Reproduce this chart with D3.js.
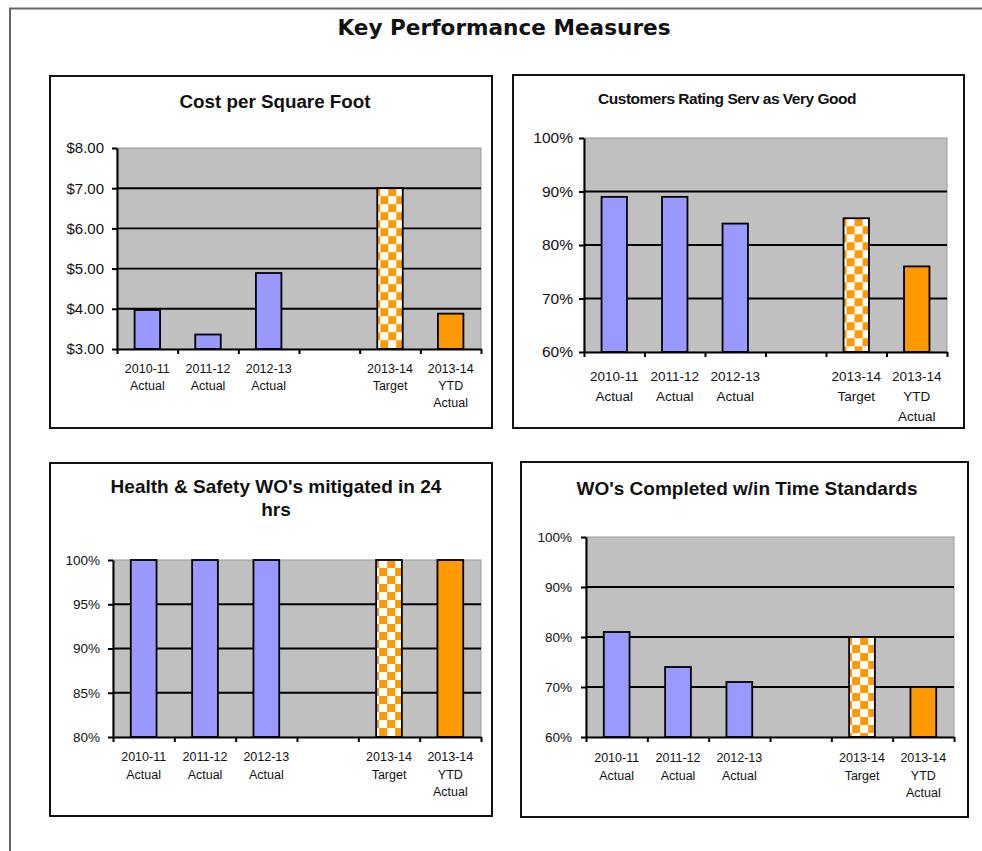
<!DOCTYPE html>
<html>
<head>
<meta charset="utf-8">
<script src="https://cdn.jsdelivr.net/npm/d3@7"></script>
<style>
  body { margin: 0; background: #fff; }
  svg { display: block; }
</style>
</head>
<body>
<svg id="chart" width="982" height="851"></svg>
<script>
// ---- data -------------------------------------------------------------
const categories = ["2010-11\nActual", "2011-12\nActual", "2012-13\nActual", "", "2013-14\nTarget", "2013-14\nYTD\nActual"];
const barKinds = ["actual", "actual", "actual", null, "target", "ytd"];

const costPerSqFt      = [3.97, 3.36, 4.89, null, 7.00, 3.88];
const customerRating   = [0.89, 0.89, 0.84, null, 0.85, 0.76];
const safetyMitigated  = [1.00, 1.00, 1.00, null, 1.00, 1.00];
const completedOnTime  = [0.81, 0.74, 0.71, null, 0.80, 0.70];

const costTicks      = [3, 4, 5, 6, 7, 8];
const ratingTicks    = [0.6, 0.7, 0.8, 0.9, 1.0];
const safetyTicks    = [0.80, 0.85, 0.90, 0.95, 1.00];
const completedTicks = [0.6, 0.7, 0.8, 0.9, 1.0];

const titles = {
  page: "Key Performance Measures",
  cost: ["Cost per Square Foot"],
  rating: ["Customers Rating Serv as Very Good"],
  safety: ["Health & Safety WO's mitigated in 24", "hrs"],
  completed: ["WO's Completed w/in Time Standards"]
};

// ---- styling ----------------------------------------------------------
const FONT = "'Liberation Sans', Arial, sans-serif";
const COLORS = { actual: "#9999FF", ytd: "#FF9900", checker: "#FF9900", plot: "#C0C0C0" };

const svg = d3.select("#chart");
const defs = svg.append("defs");

// page frame (top and left rules)
svg.append("path")
  .attr("d", "M10,851 V8.5 H982")
  .attr("fill", "none")
  .attr("stroke", "#666")
  .attr("stroke-width", 2);

svg.append("text")
  .attr("x", 504).attr("y", 35)
  .attr("text-anchor", "middle")
  .attr("font-family", "'DejaVu Sans', Verdana, sans-serif")
  .attr("font-weight", "bold")
  .attr("font-size", 21.6)
  .attr("fill", "#111")
  .text(titles.page);

// ---- panels -----------------------------------------------------------
const panels = [
  {
    key: "cost", values: costPerSqFt, ticks: costTicks, format: d3.format("$.2f"),
    box: [50, 76, 492, 428], plot: [117, 148, 481, 349],
    titleX: 275, titleY: [108], titleSize: 18.8, titleSpacing: 0,
    yFont: 15, yPad: 8, xFont: 12.5, xLine0: 373, xLineGap: 17
  },
  {
    key: "rating", values: customerRating, ticks: ratingTicks, format: d3.format(".0%"),
    box: [513, 75, 964, 428], plot: [584, 138, 947, 352],
    titleX: 727, titleY: [104], titleSize: 15.5, titleSpacing: -0.5,
    yFont: 15.5, yPad: 6, xFont: 13.5, xLine0: 381, xLineGap: 20
  },
  {
    key: "safety", values: safetyMitigated, ticks: safetyTicks, format: d3.format(".0%"),
    box: [50, 463, 492, 816], plot: [113, 560, 481, 737],
    titleX: 276, titleY: [493, 516], titleSize: 19, titleSpacing: 0,
    yFont: 13.5, yPad: 8, xFont: 12.5, xLine0: 761, xLineGap: 17.5
  },
  {
    key: "completed", values: completedOnTime, ticks: completedTicks, format: d3.format(".0%"),
    box: [521, 462, 968, 817], plot: [586, 537, 954, 737],
    titleX: 747, titleY: [495], titleSize: 19, titleSpacing: 0,
    yFont: 13.5, yPad: 9, xFont: 12.5, xLine0: 762, xLineGap: 17.5
  }
];

panels.forEach((p, pi) => drawPanel(p, pi));

function drawPanel(p, pi) {
  const g = svg.append("g").attr("class", "panel-" + p.key);
  const [bx0, by0, bx1, by1] = p.box;
  const [px0, py0, px1, py1] = p.plot;

  // chart frame
  g.append("rect")
    .attr("x", bx0).attr("y", by0)
    .attr("width", bx1 - bx0).attr("height", by1 - by0)
    .attr("fill", "#fff")
    .attr("stroke", "#111")
    .attr("stroke-width", 2);

  // title
  g.append("g").selectAll("text")
    .data(titles[p.key])
    .join("text")
    .attr("x", p.titleX)
    .attr("y", (d, i) => p.titleY[i])
    .attr("text-anchor", "middle")
    .attr("font-family", FONT)
    .attr("font-weight", "bold")
    .attr("font-size", p.titleSize)
    .attr("letter-spacing", p.titleSpacing)
    .attr("fill", "#111")
    .text(d => d);

  const idx = d3.range(categories.length);
  const x = d3.scaleBand().domain(idx).range([px0, px1]).paddingInner(0.58).paddingOuter(0.29);
  const slot = d3.scaleLinear().domain([0, categories.length]).range([px0, px1]);
  const y = d3.scaleLinear().domain([p.ticks[0], p.ticks[p.ticks.length - 1]]).range([py1, py0]);

  // plot area
  g.append("rect")
    .attr("x", px0).attr("y", py0)
    .attr("width", px1 - px0).attr("height", py1 - py0)
    .attr("fill", COLORS.plot)
    .attr("stroke", "#9a9a9a")
    .attr("stroke-width", 1);

  // major gridlines (inner ticks only)
  g.append("g").selectAll("line")
    .data(p.ticks.slice(1, -1))
    .join("line")
    .attr("x1", px0).attr("x2", px1)
    .attr("y1", d => y(d)).attr("y2", d => y(d))
    .attr("stroke", "#000")
    .attr("stroke-width", 1.9);

  // checkerboard fill for the target bar
  const ti = barKinds.indexOf("target");
  const pid = "checker-" + pi;
  const pat = defs.append("pattern")
    .attr("id", pid)
    .attr("patternUnits", "userSpaceOnUse")
    .attr("width", 16).attr("height", 16)
    .attr("x", x(ti) - 5)
    .attr("y", y(p.values[ti]));
  pat.append("rect").attr("width", 16).attr("height", 16).attr("fill", "#fff");
  pat.append("rect").attr("width", 8).attr("height", 8).attr("fill", COLORS.checker);
  pat.append("rect").attr("x", 8).attr("y", 8).attr("width", 8).attr("height", 8).attr("fill", COLORS.checker);

  const bars = idx.filter(i => p.values[i] != null);
  g.append("g").selectAll("rect")
    .data(bars)
    .join("rect")
    .attr("x", i => x(i))
    .attr("width", x.bandwidth())
    .attr("y", i => y(p.values[i]))
    .attr("height", i => y(p.ticks[0]) - y(p.values[i]))
    .attr("fill", i => barKinds[i] === "target" ? `url(#${pid})` : COLORS[barKinds[i]])
    .attr("stroke", "#000")
    .attr("stroke-width", 1.8);

  // value axis
  const yAxis = g.append("g")
    .attr("transform", `translate(${px0},0)`)
    .call(d3.axisLeft(y).tickValues(p.ticks).tickFormat(p.format).tickSize(5).tickSizeOuter(0).tickPadding(p.yPad));
  yAxis.select(".domain").attr("stroke", "#000").attr("stroke-width", 2);
  yAxis.selectAll(".tick line").attr("stroke", "#000").attr("stroke-width", 2);
  yAxis.selectAll(".tick text")
    .attr("font-family", FONT)
    .attr("font-size", p.yFont)
    .attr("fill", "#111");

  // category axis: ticks between slots
  const xAxis = g.append("g")
    .attr("transform", `translate(0,${py1})`)
    .call(d3.axisBottom(slot).tickValues(d3.range(categories.length + 1)).tickFormat("").tickSize(5).tickSizeOuter(0));
  xAxis.select(".domain").attr("stroke", "#000").attr("stroke-width", 2);
  xAxis.selectAll(".tick line").attr("stroke", "#000").attr("stroke-width", 2);

  // category labels (multi-line)
  const lab = g.append("g").selectAll("text")
    .data(idx.filter(i => categories[i] !== ""))
    .join("text")
    .attr("text-anchor", "middle")
    .attr("font-family", FONT)
    .attr("font-size", p.xFont)
    .attr("fill", "#111");
  lab.selectAll("tspan")
    .data(i => categories[i].split("\n").map(t => ({ t, i })))
    .join("tspan")
    .attr("x", d => x(d.i) + x.bandwidth() / 2)
    .attr("y", (d, k) => p.xLine0 + k * p.xLineGap)
    .text(d => d.t);
}
</script>
</body>
</html>
